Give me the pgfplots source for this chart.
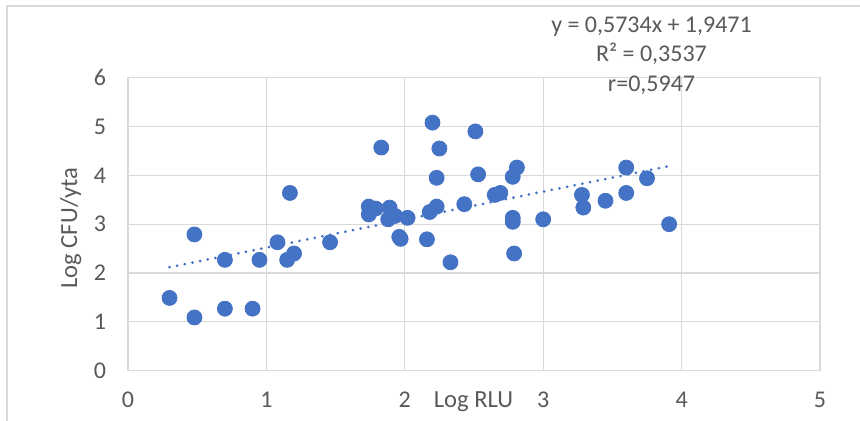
\documentclass[border=0pt]{standalone}
\usepackage{pgfplots}
\pgfplotsset{compat=1.18}
\usepackage{fontspec}
\setmainfont{Carlito}
\definecolor{gridc}{HTML}{D9D9D9}
\definecolor{txtc}{HTML}{595959}
\definecolor{ptc}{HTML}{4472C4}
\begin{document}
\begin{tikzpicture}
\useasboundingbox (0,0) rectangle (430pt,210.5pt);
\draw[gridc, line width=0.6pt] (3.5pt,0) -- (3.5pt,207.5pt) -- (431pt,207.5pt);
\begin{axis}[
  at={(64pt,25.15pt)}, anchor=south west,
  scale only axis, width=346pt, height=146.5pt,
  xmin=0, xmax=5, ymin=0, ymax=6,
  xtick={0,1,2,3,4,5}, ytick={0,1,2,3,4,5,6},
  major tick length=0pt,
  grid=major,
  major grid style={gridc, line width=0.6pt},
  axis line style={gridc, line width=0.6pt},
  /pgf/number format/assume math mode=true,
  tick label style={font=\fontsize{12pt}{14pt}\selectfont, text=txtc},
  xticklabel style={yshift=-7pt},
  yticklabel style={xshift=-7.5pt},
  xlabel={Log RLU}, ylabel={Log CFU/yta},
  every axis x label/.style={at={(axis description cs:0.4993,-0.1273)}, anchor=base, font=\fontsize{12.3pt}{14pt}\selectfont, text=txtc},
  every axis y label/.style={at={(axis description cs:-0.0828,0.487)}, anchor=center, rotate=90, font=\fontsize{12.3pt}{14pt}\selectfont, text=txtc},
  clip=false,
]
\addplot[only marks, mark=*, mark size=3.75pt, mark options={fill=ptc, draw=ptc}] table {
x y
0.30 1.49
0.48 1.09
0.48 2.79
0.70 1.27
0.70 2.27
0.90 1.27
0.95 2.27
1.15 2.27
1.20 2.40
1.08 2.63
1.17 3.64
1.46 2.63
1.83 4.57
1.74 3.36
1.74 3.20
1.79 3.32
1.89 3.34
1.88 3.10
1.93 3.17
2.02 3.13
1.96 2.74
1.97 2.70
2.16 2.69
2.20 5.08
2.25 4.55
2.23 3.95
2.23 3.36
2.18 3.25
2.33 2.22
2.43 3.41
2.51 4.90
2.53 4.02
2.65 3.60
2.69 3.64
2.81 4.16
2.78 3.97
2.78 3.13
2.78 3.05
2.79 2.40
3.00 3.10
3.28 3.60
3.29 3.34
3.45 3.48
3.60 4.16
3.60 3.64
3.75 3.94
3.91 3.00
};
\addplot[ptc, line width=1.5pt, line cap=round, dash pattern=on 0pt off 3.9pt] coordinates {(0.30,2.119) (3.91,4.189)};
\end{axis}
\begin{scope}[every node/.style={font=\fontsize{12pt}{14pt}\selectfont, text=txtc, anchor=base, inner sep=0pt}]
\node at (325.75pt,194.25pt) {y = 0,5734x + 1,9471};
\node at (325.75pt,179.5pt) {R² = 0,3537};
\node at (325.75pt,164.65pt) {r=0,5947};
\end{scope}
\end{tikzpicture}
\end{document}
